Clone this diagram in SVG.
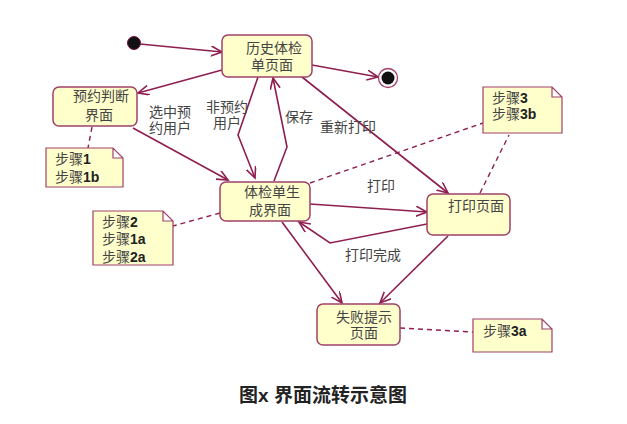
<svg xmlns="http://www.w3.org/2000/svg" width="627" height="424" viewBox="0 0 627 424">
<style>
.box{fill:#FFFFCC;stroke:#A0406A;stroke-width:1.5}
.note{fill:#FFFFCC;stroke:#A0406A;stroke-width:1.2}
.t{font-family:"Liberation Sans","Noto Sans CJK SC",sans-serif;font-size:14px;fill:#444}
.m{text-anchor:middle}
.b{font-weight:bold;fill:#222}
.e{fill:none;stroke:#8E1F50;stroke-width:1.6;marker-end:url(#arr)}
.d{fill:none;stroke:#8E1F50;stroke-width:1.4;stroke-dasharray:5,4}
.cap{font-family:"Liberation Sans","Noto Sans CJK SC",sans-serif;font-size:19px;font-weight:bold;fill:#222;text-anchor:middle}
</style>
<defs>
<marker id="arr" markerUnits="userSpaceOnUse" markerWidth="14" markerHeight="12" refX="11" refY="5" orient="auto" viewBox="0 0 14 12">
<path d="M0,0 L11,5 L0,10" fill="none" stroke="#8E1F50" stroke-width="1.6"/>
</marker>
</defs>
<rect width="627" height="424" fill="#FFFFFF"/>
<g id="connectors">
<path class="e" d="M140,44 L222,52"/>
<path class="e" d="M312,65 L378,77"/>
<path class="e" d="M222,70 L138,93"/>
<path class="e" d="M133,128 L228,180"/>
<path class="e" d="M258,77 L238,135 L255,178"/>
<path class="e" d="M274,181 L287,147 L273,78"/>
<path class="e" d="M302,77 L448,193"/>
<path class="e" d="M310,204 L427,212"/>
<path class="e" d="M427,224 L330,243 L299,222"/>
<path class="e" d="M282,222 L342,303"/>
<path class="e" d="M448,236 L380,303"/>
<path class="d" d="M92,127 L88,148"/>
<path class="d" d="M220,213 L173,226"/>
<path class="d" d="M310,183 L483,123"/>
<path class="d" d="M480,193 L509,135"/>
<path class="d" d="M400,328 L473,332"/>
</g>
<g id="labels">
<text class="t m" x="170" y="117">选中预</text>
<text class="t m" x="170" y="133">约用户</text>
<text class="t m" x="227" y="112">非预约</text>
<text class="t m" x="227" y="128">用户</text>
<text class="t" x="285" y="122">保存</text>
<text class="t" x="320" y="132">重新打印</text>
<text class="t" x="367" y="191">打印</text>
<text class="t" x="345" y="260">打印完成</text>
</g>
<g id="start"><circle cx="134" cy="43" r="6.5" fill="#111" stroke="#7A1040" stroke-width="1"/></g>
<g id="end"><circle cx="388" cy="78" r="9.5" fill="#FFF" stroke="#A0406A" stroke-width="1.3"/><circle cx="388" cy="78" r="6.5" fill="#111"/></g>
<g id="history">
<rect class="box" x="222" y="35" width="90" height="42" rx="6"/>
<text class="t m" x="274" y="53">历史体检</text>
<text class="t m" x="272" y="70">单页面</text>
</g>
<g id="reserve">
<rect class="box" x="53" y="87" width="84" height="39" rx="6"/>
<text class="t m" x="101" y="101">预约判断</text>
<text class="t m" x="99" y="120">界面</text>
</g>
<g id="generate">
<rect class="box" x="220" y="182" width="90" height="39" rx="6"/>
<text class="t m" x="272" y="197">体检单生</text>
<text class="t m" x="270" y="215">成界面</text>
</g>
<g id="print">
<rect class="box" x="427" y="194" width="83" height="41" rx="6"/>
<text class="t m" x="476" y="211">打印页面</text>
</g>
<g id="fail">
<rect class="box" x="317" y="304" width="83" height="41" rx="6"/>
<text class="t m" x="364" y="322">失败提示</text>
<text class="t m" x="364" y="338">页面</text>
</g>
<g id="note1">
<path class="note" d="M46,148 H113 L123,158 V187 H46 Z M113,148 V158 H123"/>
<text class="t" x="55" y="164">步骤<tspan class="b">1</tspan></text>
<text class="t" x="55" y="182">步骤<tspan class="b">1b</tspan></text>
</g>
<g id="note2">
<path class="note" d="M93,211 H163 L173,221 V265 H93 Z M163,211 V221 H173"/>
<text class="t" x="102" y="227">步骤<tspan class="b">2</tspan></text>
<text class="t" x="102" y="244">步骤<tspan class="b">1a</tspan></text>
<text class="t" x="102" y="262">步骤<tspan class="b">2a</tspan></text>
</g>
<g id="note3">
<path class="note" d="M483,87 H552 L562,97 V133 H483 Z M552,87 V97 H562"/>
<text class="t" x="492" y="103">步骤<tspan class="b">3</tspan></text>
<text class="t" x="492" y="119">步骤<tspan class="b">3b</tspan></text>
</g>
<g id="note4">
<path class="note" d="M473,319 H542 L552,329 V352 H473 Z M542,319 V329 H552"/>
<text class="t" x="483" y="336">步骤<tspan class="b">3a</tspan></text>
</g>
<text class="cap" x="323" y="402">图x 界面流转示意图</text>
</svg>
